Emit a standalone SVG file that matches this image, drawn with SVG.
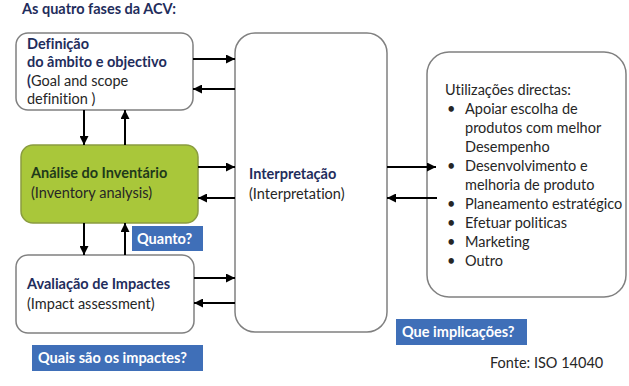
<svg xmlns="http://www.w3.org/2000/svg" width="629" height="386" viewBox="0 0 629 386">
<style>
text{font-family:Lato,"Open Sans","Liberation Sans",sans-serif;font-size:14.5px;fill:#262626;font-variant-ligatures:none}
.b{font-weight:bold;fill:#1f2d5c}
.g{font-weight:bold;fill:#1f3a1a}
.w{font-weight:bold;fill:#ffffff}
.box{fill:#ffffff;stroke:#808080;stroke-width:1.5}
.lab{fill:#3f6fb8}
.c line{stroke:#000;stroke-width:2;marker-end:url(#ah)}
</style>
<defs>
<marker id="ah" viewBox="0 0 10 10" refX="10" refY="5" markerWidth="5" markerHeight="4.5" markerUnits="strokeWidth" orient="auto">
<path d="M0,0L10,5L0,10z" fill="#000"/>
</marker>
</defs>
<rect width="629" height="386" fill="#ffffff"/>
<text id="title" x="22" y="14" class="b">As quatro fases da ACV:</text>

<g id="definicao">
<rect class="box" x="16" y="33" width="177" height="77" rx="12"/>
<text x="27" y="49" class="b">Definição</text>
<text x="27" y="67" class="b">do âmbito e objectivo</text>
<text x="27" y="85.5"><tspan class="b">(</tspan>Goal and scope</text>
<text x="27" y="104">definition )</text>
</g>

<g id="inventario">
<rect x="21" y="145" width="177" height="78" rx="12" fill="#a9c73a" stroke="#8a9c40" stroke-width="1.5"/>
<text x="31" y="178" class="g">Análise do Inventário</text>
<text x="31" y="198" fill="#1f3a1a">(Inventory analysis)</text>
</g>

<g id="impactes">
<rect class="box" x="16" y="255" width="178" height="78" rx="12"/>
<text x="27" y="289" class="b">Avaliação de Impactes</text>
<text x="27" y="309">(Impact assessment)</text>
</g>

<g id="interpretacao">
<rect class="box" x="235" y="33" width="152" height="299" rx="20"/>
<text x="249" y="179" class="b">Interpretação</text>
<text x="249" y="199">(Interpretation)</text>
</g>

<g id="utilizacoes">
<rect class="box" x="427" y="52" width="199" height="245" rx="22"/>
<text x="445" y="95">Utilizações directas:</text>
<g>
<text x="447" y="114">•</text><text x="465" y="114">Apoiar escolha de</text>
<text x="465" y="133">produtos com melhor</text>
<text x="465" y="152">Desempenho</text>
<text x="447" y="171">•</text><text x="465" y="171">Desenvolvimento e</text>
<text x="465" y="190">melhoria de produto</text>
<text x="447" y="209">•</text><text x="465" y="209">Planeamento estratégico</text>
<text x="447" y="228">•</text><text x="465" y="228">Efetuar politicas</text>
<text x="447" y="247">•</text><text x="465" y="247">Marketing</text>
<text x="447" y="266">•</text><text x="465" y="266">Outro</text>
</g>
</g>

<g id="quanto">
<rect class="lab" x="132" y="226" width="71" height="25"/>
<text x="137" y="243.5" class="w">Quanto?</text>
</g>
<g id="quais">
<rect class="lab" x="32" y="345" width="171" height="26"/>
<text x="38" y="363" class="w">Quais são os impactes?</text>
</g>
<g id="implicacoes">
<rect class="lab" x="396" y="319" width="131" height="26"/>
<text x="402" y="337" class="w">Que implicações?</text>
</g>
<text id="fonte" x="490" y="368">Fonte: ISO 14040</text>

<g id="connectors" class="c">
<line x1="193" y1="59" x2="235" y2="59"/>
<line x1="235" y1="89" x2="193" y2="89"/>
<line x1="198" y1="167" x2="235" y2="167"/>
<line x1="235" y1="198" x2="198" y2="198"/>
<line x1="194" y1="278" x2="235" y2="278"/>
<line x1="235" y1="303" x2="194" y2="303"/>
<line x1="84" y1="110" x2="84" y2="145"/>
<line x1="125" y1="145" x2="125" y2="110"/>
<line x1="84" y1="223" x2="84" y2="255"/>
<line x1="125" y1="255" x2="125" y2="223"/>
<line x1="387" y1="167" x2="436" y2="167"/>
<line x1="437" y1="198" x2="387" y2="198"/>
</g>
</svg>
